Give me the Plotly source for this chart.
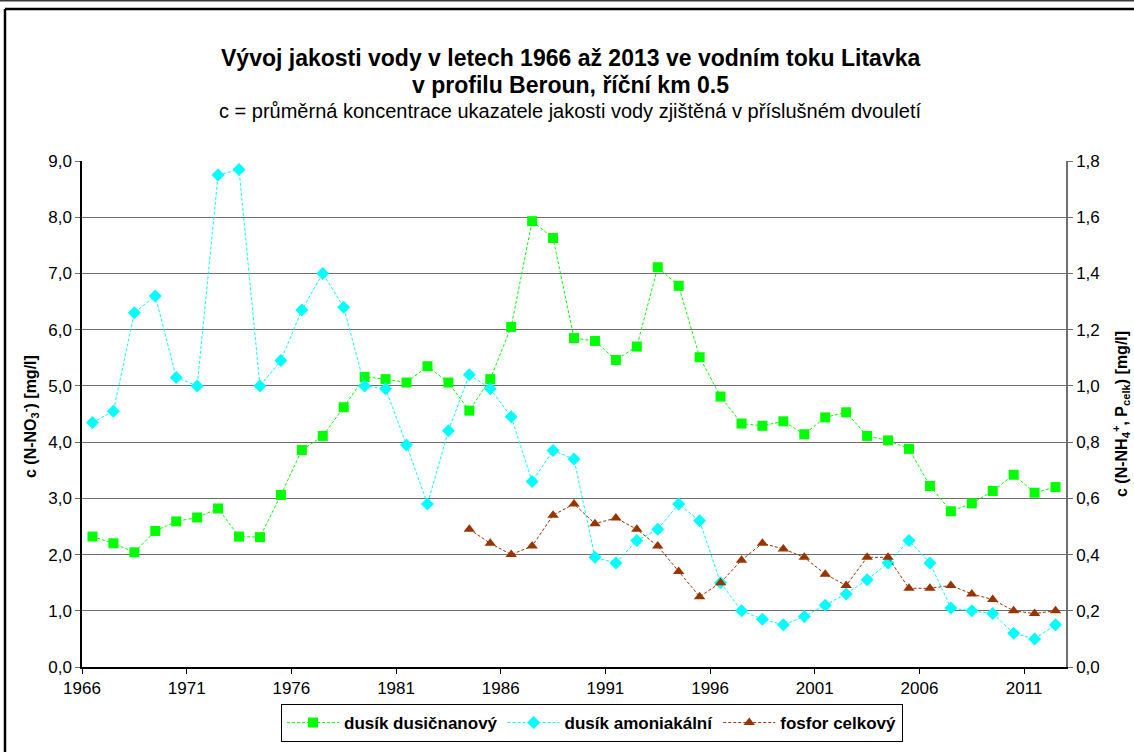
import plotly.graph_objects as go

# Two-year average concentrations, Litavka river, profile Beroun (river km 0.5)
years = list(range(1966, 2013))

nitrate_n = [2.32, 2.20, 2.04, 2.42, 2.59, 2.66, 2.82, 2.32, 2.31, 3.06, 3.86, 4.11, 4.62, 5.16,
             5.12, 5.06, 5.35, 5.06, 4.56, 5.12, 6.05, 7.93, 7.63, 5.85, 5.80, 5.46, 5.70, 7.11,
             6.78, 5.51, 4.81, 4.33, 4.29, 4.37, 4.14, 4.44, 4.53, 4.11, 4.03, 3.88, 3.22, 2.77,
             2.91, 3.13, 3.42, 3.10, 3.20]

ammonium_n = [0.87, 0.91, 1.26, 1.32, 1.03, 1.00, 1.75, 1.77, 1.00, 1.09, 1.27, 1.40, 1.28, 1.00,
              0.99, 0.79, 0.58, 0.84, 1.04, 0.99, 0.89, 0.66, 0.77, 0.74, 0.39, 0.37, 0.45, 0.49,
              0.58, 0.52, 0.30, 0.20, 0.17, 0.15, 0.18, 0.22, 0.26, 0.31, 0.37, 0.45, 0.37, 0.21,
              0.20, 0.19, 0.12, 0.10, 0.15]

phosphorus_years = list(range(1984, 2013))
phosphorus_total = [0.49, 0.44, 0.40, 0.43, 0.54, 0.58, 0.51, 0.53, 0.49, 0.43, 0.34, 0.25,
                    0.30, 0.38, 0.44, 0.42, 0.39, 0.33, 0.29, 0.39, 0.39, 0.28, 0.28, 0.29,
                    0.26, 0.24, 0.20, 0.19, 0.20]

series_names = ["dusík dusičnanový", "dusík amoniakální", "fosfor celkový"]
x_ticks = list(range(1966, 2012, 5))

FONT = "Liberation Sans, Arial, sans-serif"
GREEN = "#00FF00"
CYAN = "#00FFFF"
BROWN = "#993300"
DASH = "3px,2px"

# each two-year value is placed at the middle of its year
mid = lambda ys: [y + 0.5 for y in ys]

fig = go.Figure()
fig.add_trace(go.Scatter(
    x=mid(years), y=nitrate_n, name=series_names[0], mode="lines+markers",
    line=dict(color=GREEN, width=1, dash=DASH),
    marker=dict(symbol="square", size=10, color=GREEN),
))
fig.add_trace(go.Scatter(
    x=mid(years), y=ammonium_n, name=series_names[1], mode="lines+markers", yaxis="y2",
    line=dict(color=CYAN, width=1, dash=DASH),
    marker=dict(symbol="diamond", size=10, color=CYAN),
))
fig.add_trace(go.Scatter(
    x=mid(phosphorus_years), y=phosphorus_total, name=series_names[2], mode="lines+markers",
    yaxis="y2",
    line=dict(color=BROWN, width=1, dash=DASH),
    marker=dict(symbol="triangle-up", size=10, color=BROWN),
))

W, H = 1134, 752
L, R, T, B = 82, 68, 161, 85
pw, ph = W - L - R, H - T - B


def px(xp):
    return (xp - L) / pw


def py(yp):
    return (H - B - yp) / ph


tick_font = dict(family=FONT, size=17, color="#000000")

fig.update_layout(
    width=W, height=H,
    margin=dict(l=L, r=R, t=T, b=B, pad=0, autoexpand=False),
    paper_bgcolor="white", plot_bgcolor="white",
    separators=", ",
    showlegend=True,
    legend=dict(
        orientation="h", xref="container", yref="container",
        x=592 / W, xanchor="center", y=(H - 742) / H, yanchor="bottom",
        bordercolor="#000000", borderwidth=1, bgcolor="white",
        font=dict(family=FONT, size=17, color="#000000", weight="bold"),
        itemwidth=52, tracegroupgap=0,
    ),
    xaxis=dict(
        range=[1966, 2013], tickmode="array", tickvals=x_ticks,
        ticktext=[str(v) for v in x_ticks], automargin=False,
        showgrid=False, zeroline=False,
        showline=True, linecolor="#000000", linewidth=1.5,
        ticks="outside", ticklen=5, tickcolor="#000000",
        tickfont=tick_font,
    ),
    yaxis=dict(
        range=[0, 9], dtick=1, tickformat=".1f", automargin=False,
        showgrid=True, gridcolor="#6e6e6e", gridwidth=1, zeroline=False,
        showline=True, linecolor="#000000", linewidth=1.5,
        ticks="outside", ticklen=5, tickcolor="#6e6e6e",
        tickfont=tick_font,
    ),
    yaxis2=dict(
        range=[0, 1.8], dtick=0.2, tickformat=".1f", overlaying="y", side="right",
        automargin=False,
        showgrid=False, zeroline=False,
        showline=True, linecolor="#6e6e6e", linewidth=1.5,
        ticks="outside", ticklen=5, tickcolor="#6e6e6e",
        tickfont=tick_font,
    ),
)

# titles
fig.add_annotation(
    xref="paper", yref="paper", x=px(570), y=py(58), xanchor="center", yanchor="middle",
    text="Vývoj jakosti vody v letech 1966 až 2013 ve vodním toku Litavka",
    showarrow=False, font=dict(family=FONT, size=23, color="#000000", weight="bold"),
)
fig.add_annotation(
    xref="paper", yref="paper", x=px(570), y=py(85), xanchor="center", yanchor="middle",
    text="v profilu Beroun, říční km 0.5",
    showarrow=False, font=dict(family=FONT, size=23, color="#000000", weight="bold"),
)
fig.add_annotation(
    xref="paper", yref="paper", x=px(570), y=py(111), xanchor="center", yanchor="middle",
    text="c = průměrná koncentrace ukazatele jakosti vody zjištěná v příslušném dvouletí",
    showarrow=False, font=dict(family=FONT, size=20, color="#000000"),
)

# axis titles
fig.add_annotation(
    xref="paper", yref="paper", x=px(30), y=py(417), xanchor="center", yanchor="middle",
    text="c (N-NO<sub>3</sub><sup>-</sup>) [mg/l]", textangle=-90,
    showarrow=False, font=dict(family=FONT, size=16, color="#000000", weight="bold"),
)
fig.add_annotation(
    xref="paper", yref="paper", x=px(1121), y=py(414), xanchor="center", yanchor="middle",
    text="c (N-NH<sub>4</sub><sup>+</sup>, P<sub>celk</sub>) [mg/l]", textangle=-90,
    showarrow=False, font=dict(family=FONT, size=16, color="#000000", weight="bold"),
)

# chart area frame
fig.add_shape(type="line", xref="paper", yref="paper", x0=px(0), x1=px(W), y0=py(0.5), y1=py(0.5),
              line=dict(color="#3a3a3a", width=2))
fig.add_shape(type="line", xref="paper", yref="paper", x0=px(5), x1=px(W), y0=py(9), y1=py(9),
              line=dict(color="#000000", width=2.5))
fig.add_shape(type="line", xref="paper", yref="paper", x0=px(5), x1=px(5), y0=py(9), y1=py(H + 5),
              line=dict(color="#000000", width=2.5))

fig.write_html("out.html")
